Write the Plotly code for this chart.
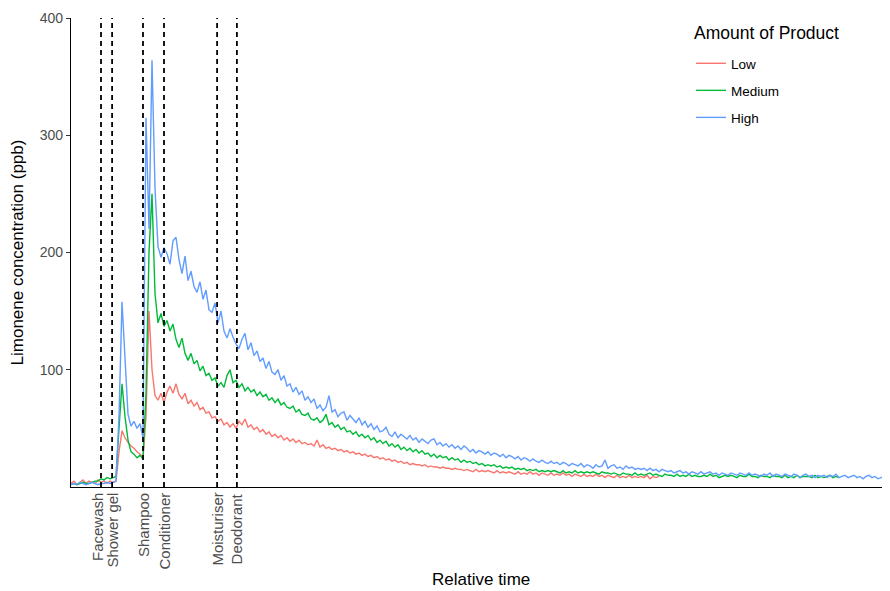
import plotly.graph_objects as go

# ---- data (relative time in sample units, limonene ppb) ----
low = [
    3, 5, 2, 4, 6, 3, 5, 4, 3, 6,
    4, 5, 3, 5, 4, 5, 30, 48, 42, 38,
    35, 33, 30, 28, 25, 60, 150, 100, 78, 74,
    80, 72, 81, 86, 80, 88, 79, 75, 80, 71,
    74, 69, 72, 66, 68, 63, 64, 59, 60, 56,
    58, 53, 55, 51, 54, 50, 56, 53, 58, 51,
    53, 49, 51, 47, 49, 45, 47, 43, 45, 42,
    44, 40, 42, 39, 41, 38, 40, 37, 38, 36,
    37, 35, 40, 34, 36, 33, 34, 32, 33, 31,
    32, 30, 31, 29, 30, 28, 29, 27, 28, 26,
    27, 25, 26, 24, 25, 23, 24, 22, 23, 21,
    22, 20, 21, 19, 20, 19, 19, 18, 19, 17,
    18, 17, 17, 16, 17, 16, 16, 15, 16, 15,
    15, 14, 15, 14, 13, 15, 13, 14, 13, 14,
    13, 12, 14, 12, 13, 12, 13, 12, 11, 13,
    11, 12, 11, 13, 11, 12, 10, 12, 11, 10,
    12, 10, 11, 10, 12, 10, 11, 9, 11, 10,
    9, 11, 9, 10, 9, 11, 9, 10, 8, 10,
    9, 8, 10, 8, 9, 8, 10, 8, 9, 8,
    9, 8, 10, 7, 9, 8, 9,
]

medium = [
    2, 3, 2, 3, 4, 3, 3, 4, 5, 5,
    7, 6, 8, 7, 8, 9, 50, 88, 60, 40,
    30, 28, 25, 27, 24, 80, 200, 250, 165, 140,
    148, 137, 142, 133, 139, 126, 119, 127, 114, 108,
    114, 105, 108, 99, 103, 95, 97, 91, 93, 86,
    89, 85, 95, 100, 89, 91, 85, 88, 82, 85,
    81, 83, 78, 81, 77, 79, 74, 76, 72, 75,
    70, 72, 68, 67, 69, 64, 66, 62, 61, 63,
    58, 57, 59, 55, 57, 62, 53, 55, 51, 53,
    49, 51, 47, 48, 45, 47, 43, 45, 42, 44,
    40, 42, 38, 40, 37, 39, 35, 37, 34, 36,
    32, 34, 31, 33, 30, 32, 29, 31, 28, 29,
    26, 28, 25, 27, 25, 26, 23, 25, 23, 24,
    21, 23, 21, 22, 20, 21, 19, 20, 18, 19,
    18, 19, 17, 18, 16, 17, 16, 17, 15, 16,
    15, 16, 14, 15, 14, 15, 13, 14, 13, 14,
    13, 14, 13, 12, 14, 12, 13, 12, 14, 12,
    13, 12, 13, 12, 13, 12, 11, 13, 12, 12,
    11, 12, 11, 10, 12, 11, 11, 10, 12, 10,
    11, 10, 11, 12, 10, 11, 10, 9, 11, 10,
    10, 9, 11, 9, 10, 9, 11, 9, 10, 9,
    9, 10, 9, 11, 9, 10, 8, 9, 10, 9,
    10, 9, 8, 10, 9, 9, 11, 9, 9, 8,
    10, 9, 9, 8, 10, 9, 9, 8, 10, 8,
    9, 8, 10, 8, 9, 9, 9, 8, 10, 8,
    9, 8, 9, 10, 8, 9, 8,
]

high = [
    2, 3, 2, 4, 3, 2, 3, 4, 3, 2,
    3, 3, 4, 3, 4, 5, 60, 158, 110, 62,
    52, 56, 50, 54, 42, 315, 220, 364, 255, 205,
    196, 204, 199, 190, 210, 213, 194, 182, 197, 176,
    184, 171, 166, 175, 160, 168, 151, 149, 157, 140,
    150, 133, 127, 135, 128, 122, 118, 126, 131, 117,
    123, 112, 116, 107, 110, 101, 107, 98, 96, 100,
    91, 95, 86, 88, 81, 85, 79, 82, 74, 77,
    72, 75, 67, 70, 65, 68, 78, 64, 66, 60,
    63, 64, 57, 61, 58, 55, 59, 53, 56, 51,
    54, 49, 52, 47, 48, 51, 45, 43, 47, 42,
    45, 43, 41, 44, 40, 42, 38, 41, 39, 37,
    40, 41, 36, 38, 35, 37, 34, 36, 33, 35,
    32, 35, 33, 30, 32, 29, 31, 30, 28, 30,
    27, 29, 28, 26, 28, 25, 27, 26, 24, 26,
    23, 25, 24, 22, 24, 22, 21, 23, 21, 20,
    22, 20, 21, 19, 21, 20, 18, 20, 19, 18,
    20, 17, 19, 18, 16, 19, 17, 18, 23, 16,
    18, 19, 16, 17, 15, 18, 16, 17, 15, 16,
    15, 16, 14, 16, 14, 15, 13, 15, 14, 13,
    14, 12, 13, 14, 12, 13, 11, 13, 12, 11,
    13, 11, 12, 13, 11, 12, 10, 12, 11, 10,
    12, 11, 10, 12, 11, 10, 12, 10, 11, 10,
    9, 11, 10, 12, 9, 11, 10, 9, 11, 10,
    9, 11, 10, 8, 10, 11, 9, 10, 8, 10,
    9, 10, 8, 10, 9, 11, 8, 9, 10, 8,
    9, 10, 8, 9, 7, 9, 10, 8, 9, 7,
    8, 9, 7, 8,
]

series_names = ["Low", "Medium", "High"]
series_values = [low, medium, high]
series_colors = ["#F8766D", "#00BA38", "#619CFF"]

event_names = ["Facewash", "Shower gel", "Shampoo", "Conditioner", "Moisturiser", "Deodorant"]
event_times = [10, 13.7, 24, 31, 48.7, 55.3]
event_label_shift = [-4, 0, 0, 0, 0, 0]

y_ticks = [100, 200, 300, 400]
x_range = [0, 273]
y_range = [0, 400]

fig = go.Figure()
for name, vals, col in zip(series_names, series_values, series_colors):
    fig.add_trace(go.Scatter(
        x=list(range(len(vals))), y=vals, mode="lines", name=name,
        legendgroup=name,
        line=dict(color=col, width=1.4),
    ))

for t in event_times:
    fig.add_shape(type="line", x0=t, x1=t, xref="x", y0=0, y1=1, yref="paper",
                  line=dict(color="black", width=1.8, dash="5px,4px"), layer="above")

for name, t, sh in zip(event_names, event_times, event_label_shift):
    fig.add_annotation(x=t, y=0, xref="x", yref="paper", text=name, showarrow=False,
                       textangle=-90, xanchor="center", yanchor="top", yshift=-4, xshift=sh,
                       font=dict(size=15, color="#4D4D4D"))

fig.add_annotation(x=0.5, y=-0.198, xref="paper", yref="paper", text="Relative time",
                   showarrow=False, xanchor="center", yanchor="middle",
                   font=dict(size=17, color="black"))

# legend title
fig.add_annotation(x=0.758, y=0.968, xref="paper", yref="paper", text="Amount of Product",
                   showarrow=False, xanchor="left", yanchor="middle",
                   font=dict(size=17.5, color="black"))

fig.update_layout(
    width=882, height=583,
    margin=dict(l=63, r=0, t=10, b=104),
    plot_bgcolor="white", paper_bgcolor="white",
    font=dict(family="Liberation Sans, Arial, sans-serif", color="black"),
    showlegend=True,
    legend=dict(
        font=dict(size=13.5, color="black"),
        x=0.757, xanchor="left", y=0.936, yanchor="top",
        tracegroupgap=6.5, bgcolor="rgba(0,0,0,0)",
        traceorder="grouped",
    ),
    xaxis=dict(range=x_range, showline=True, linecolor="black", linewidth=1.2,
               showgrid=False, zeroline=False, showticklabels=False, ticks=""),
    yaxis=dict(range=y_range, showline=True, linecolor="black", linewidth=1.2,
               showgrid=False, zeroline=False, tickvals=y_ticks,
               ticks="outside", ticklen=4, tickcolor="#333333",
               tickfont=dict(size=14, color="#4D4D4D"),
               title=dict(text="Limonene concentration (ppb)", font=dict(size=17, color="black"), standoff=12)),
)

fig.write_html("out.html")
